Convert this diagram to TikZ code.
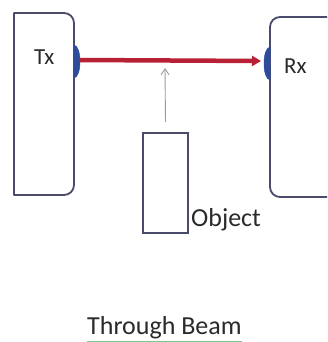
\documentclass[tikz,border=0pt]{standalone}
\usepackage{fontspec}
\setmainfont{Carlito}
\usetikzlibrary{arrows.meta}
\definecolor{boxc}{HTML}{4A4A6A}
\definecolor{beamc}{HTML}{B82035}
\definecolor{lensc}{HTML}{2E4C9C}
\definecolor{txtc}{HTML}{2A2A2A}
\definecolor{linec}{HTML}{7CC890}
\tikzset{
  unitbox/.style={draw=boxc, line width=1.8pt, line join=round},
  lens/.style={fill=lensc, draw=lensc, line width=0.5pt},
  beam/.style={draw=beamc, line width=4.5pt, -{Triangle[length=9pt,width=10pt]}},
  probe/.style={draw=gray!80, line width=0.9pt, -{Straight Barb[length=6pt,width=8pt]}},
  lbl/.style={text=txtc, inner sep=0pt}
}
\begin{document}
\begin{tikzpicture}[x=1pt,y=-1pt]
\useasboundingbox (0,0) rectangle (327,342);
\begin{scope}
\clip (0,0) rectangle (327,342);
% Tx housing
\draw[unitbox] (14,13) -- (64,13) arc[start angle=90,end angle=0,radius=10pt]
  -- (74,185) arc[start angle=0,end angle=-90,radius=10pt] -- (14,195) -- cycle;
% Rx housing
\draw[unitbox] (335,17) -- (280,17) arc[start angle=90,end angle=180,radius=10pt]
  -- (270,187) arc[start angle=180,end angle=270,radius=10pt] -- (335,197);
\end{scope}
% lenses
\draw[lens] (74,45) .. controls (82,46) and (82,77) .. (74,78) -- cycle;
\draw[lens] (270,47) .. controls (262,48) and (262,79) .. (270,80) -- cycle;
\coordinate (txlens) at (79,60);
\coordinate (rxlens) at (261,61);
\coordinate (beamhit) at (165,68);
% object
\node[draw=boxc, line width=1.8pt, minimum width=45pt, minimum height=100pt, inner sep=0pt] (obj) at (165.5,183) {};
% beam
\draw[beam] (txlens) -- (rxlens);
% probe arrow
\draw[probe] ([yshift=10pt]obj.north) -- (beamhit);
% labels
\node[lbl, anchor=base west, font=\fontsize{23}{27}\selectfont] (tx) at (34,65) {Tx};
\node[lbl, anchor=base west, font=\fontsize{23}{27}\selectfont] (rx) at (284,74) {Rx};
\node[lbl, anchor=base west, font=\fontsize{26}{30}\selectfont] (objl) at (191,226) {Object};
\node[lbl, anchor=base west, font=\fontsize{26}{30}\selectfont] (title) at (87,334) {Through Beam};
\draw[linec, line width=0.8pt] ([yshift=-7pt]title.base west) -- ([yshift=-7pt]title.base east);
\end{tikzpicture}
\end{document}
